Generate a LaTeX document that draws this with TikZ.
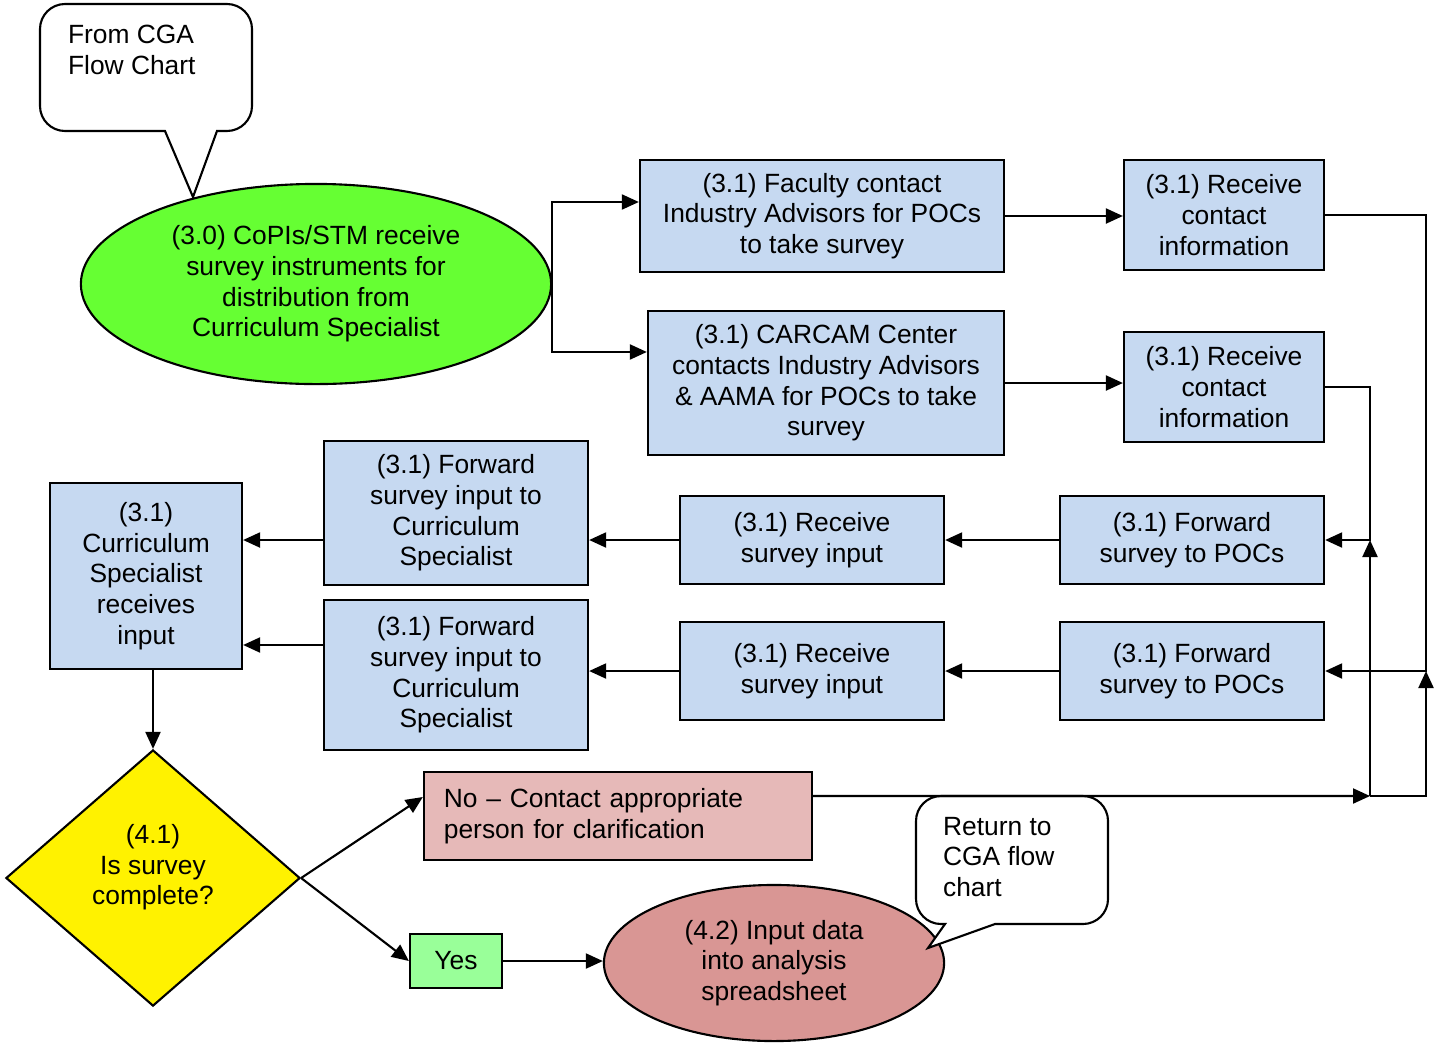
\documentclass[tikz,border=0pt]{standalone}
\usepackage{fontspec}
\setmainfont{Liberation Sans}
\usetikzlibrary{shapes.geometric,arrows.meta}
\definecolor{boxblue}{RGB}{198,217,241}
\definecolor{copigreen}{RGB}{102,255,51}
\definecolor{nopink}{RGB}{230,185,184}
\definecolor{yesgreen}{RGB}{153,255,153}
\definecolor{inputred}{RGB}{217,150,148}
\begin{document}
\begin{tikzpicture}[x=0.01cm,y=-0.01cm,line width=0.6pt,>={Triangle[length=0.17cm,width=0.15cm]},font=\fontsize{7.5}{8.7}\selectfont]
\useasboundingbox (0,0) rectangle (1434,1042);
\tikzstyle{box}=[draw, fill=boxblue, align=center, inner sep=0pt]
\node[draw,ellipse,fill=copigreen,inner sep=0pt,minimum width=4.7cm,minimum height=2cm,align=center](copis) at (316,284){(3.0) CoPIs/STM receive\\survey instruments for\\distribution from\\Curriculum Specialist};
\node[box,minimum width=3.64cm,minimum height=1.12cm](fac) at (822,216){(3.1) Faculty contact\\Industry Advisors for POCs\\to take survey};
\node[box,minimum width=2cm,minimum height=1.1cm](rci1) at (1224,215){(3.1) Receive\\contact\\information};
\node[box,minimum width=3.56cm,minimum height=1.44cm](carcam) at (826,383){(3.1) CARCAM Center\\contacts Industry Advisors\\\& AAMA for POCs to take\\survey};
\node[box,minimum width=2cm,minimum height=1.1cm](rci2) at (1224,387){(3.1) Receive\\contact\\information};
\node[box,minimum width=2.64cm,minimum height=0.88cm](fw1) at (1192,540){(3.1) Forward\\survey to POCs};
\node[box,minimum width=2.64cm,minimum height=0.98cm](fw2) at (1192,671){(3.1) Forward\\survey to POCs};
\node[box,minimum width=2.64cm,minimum height=0.88cm](rsi1) at (812,540){(3.1) Receive\\survey input};
\node[box,minimum width=2.64cm,minimum height=0.98cm](rsi2) at (812,671){(3.1) Receive\\survey input};
\node[box,minimum width=2.64cm,minimum height=1.44cm](fsi1) at (456,513){(3.1) Forward\\survey input to\\Curriculum\\Specialist};
\node[box,minimum width=2.64cm,minimum height=1.5cm](fsi2) at (456,675){(3.1) Forward\\survey input to\\Curriculum\\Specialist};
\node[box,minimum width=1.92cm,minimum height=1.86cm](csr) at (146,576){(3.1)\\Curriculum\\Specialist\\receives\\input};
\node[draw,diamond,fill=yellow,aspect=1.15,inner sep=0pt,text depth=0.27cm,minimum width=2.94cm,minimum height=2.56cm,align=center](comp) at (153,878){(4.1)\\Is survey\\complete?};
\node[draw,fill=nopink,text width=3.48cm,inner xsep=0.2cm,minimum height=0.88cm,align=left](no) at (618,816){No – Contact appropriate\\person for clarification};
\node[draw,fill=yesgreen,minimum width=0.92cm,minimum height=0.54cm](yes) at (456,961){Yes};
\node[draw,ellipse,fill=inputred,inner sep=0pt,minimum width=3.4cm,minimum height=1.56cm,align=center](input) at (774,963){(4.2) Input data\\into analysis\\spreadsheet};
% speech bubbles
\draw[fill=white] (193,197) -- (217,131) [rounded corners=0.25cm] -- (252,131) -- (252,4) -- (40,4) -- (40,131) [sharp corners] -- (165,131) -- cycle;
\node[align=left,anchor=west,inner sep=0pt](cga) at (67,50){From CGA\\Flow Chart};
\draw[fill=white] (928,948) -- (945,924) [rounded corners=0.25cm] -- (916,924) -- (916,796) -- (1108,796) -- (1108,924) [sharp corners] -- (995,924) -- cycle;
\node[align=left,anchor=west,inner sep=0pt](ret) at (942,857){Return to\\CGA flow\\chart};
% connectors
\coordinate (jl) at (1370,796);
\coordinate (jr) at (1426,796);
\draw[->] (copis.east) |- ([yshift=0.14cm]fac.west);
\draw[->] (copis.east) |- ([yshift=0.31cm]carcam.west);
\foreach \i/\j in {fac/rci1,carcam/rci2}{\draw[->] (\i.east) -- (\i.east -| \j.west);}
\draw[->] (rci1.east) -- (rci1.east -| jr) |- (fw2.east);
\draw[->] (rci2.east) -- (rci2.east -| jl) |- (fw1.east);
\foreach \i/\j in {fw1/rsi1,rsi1/fsi1,fw2/rsi2,rsi2/fsi2}{\draw[->] (\i.west) -- (\i.west -| \j.east);}
\draw[->] (fsi1.west |- rsi1) -- (csr.east |- rsi1);
\draw[->] ([yshift=0.3cm]fsi2.west) -- ([yshift=0.3cm]fsi2.west -| csr.east);
\draw[->] (comp.north |- csr.south) -- (comp.north);
\draw[->] (comp.east) -- ([yshift=0.19cm]no.west);
\draw[->] (comp.east) -- (yes.west);
\draw[->] (yes.east) -- (yes.east -| input.west);
\draw[->] ([yshift=0.2cm]no.east) -- (jl);
\draw[->] (jl) -- (jr) -- (jr |- fw2.east);
\draw[->] (jl) -- (jl |- fw1.east);
\end{tikzpicture}
\end{document}
